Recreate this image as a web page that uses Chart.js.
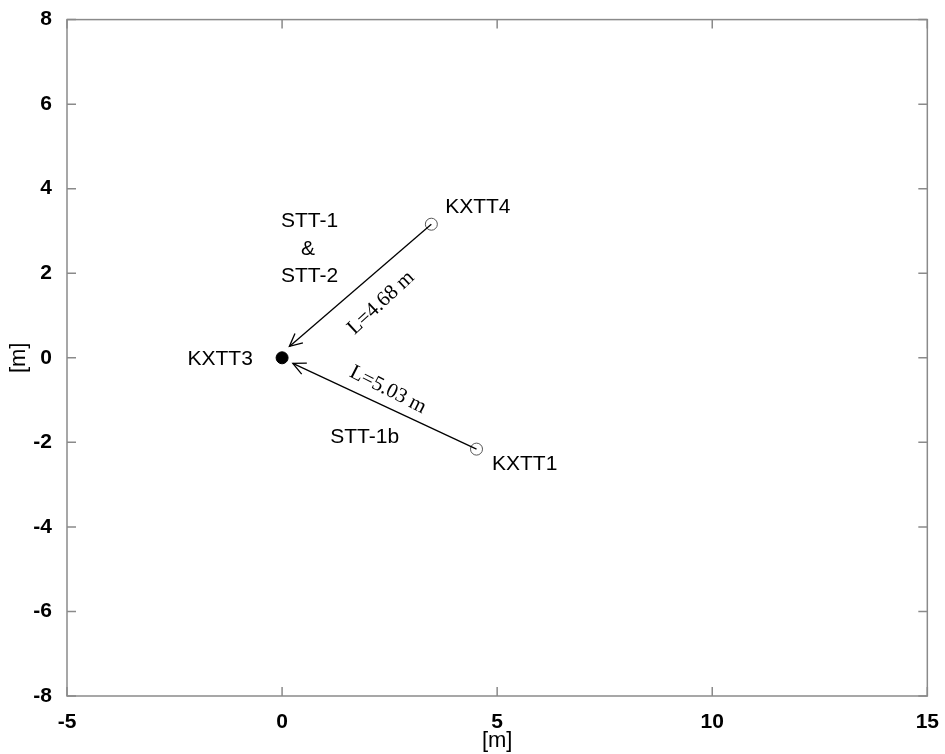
<!DOCTYPE html>
<html>
<head>
<meta charset="utf-8">
<script src="https://cdn.jsdelivr.net/npm/chart.js@4.4.1/dist/chart.umd.min.js"></script>
<style>
  body { margin: 0; background: #fff; }
  #wrap { width: 945px; height: 754px; }
</style>
</head>
<body>
<div id="wrap"><canvas id="chart" width="945" height="754"></canvas></div>
<script>
// station positions [m]
const stationNames = ['KXTT3', 'KXTT4', 'KXTT1'];
const stationX = [0, 3.47, 4.52];
const stationY = [0, 3.16, -2.16];

// arrows: start station -> tip near KXTT3
const arrowFromX = [3.47, 4.52];
const arrowFromY = [3.16, -2.16];
const arrowToX = [0.17, 0.25];
const arrowToY = [0.27, -0.13];

// text annotations (centre positions)
const labelText = ['KXTT3', 'KXTT4', 'KXTT1', 'STT-1', '&', 'STT-2', 'STT-1b'];
const labelX = [-1.44, 4.55, 5.64, 0.64, 0.6, 0.64, 1.92];
const labelY = [-0.03, 3.57, -2.51, 3.22, 2.57, 1.94, -1.87];
const lengthText = ['L=4.68 m', 'L=5.03 m'];
const lengthX = [2.3, 2.46];
const lengthY = [1.3, -0.76];
const lengthAngle = [-43, 27];

// axes
const xTicks = [-5, 0, 5, 10, 15];
const yTicks = [-8, -6, -4, -2, 0, 2, 4, 6, 8];

const sans = "'Liberation Sans Narrow', 'Liberation Sans', Arial, sans-serif";
const frameColor = '#8a8a8a';

const framePlugin = {
    id: 'frame',
    afterDraw(chart) {
        const ctx = chart.ctx;
        const a = chart.chartArea;
        const xs = chart.scales.x, ys = chart.scales.y;
        ctx.save();
        ctx.strokeStyle = frameColor;
        ctx.lineWidth = 1.5;
        ctx.strokeRect(a.left, a.top, a.right - a.left, a.bottom - a.top);
        ctx.beginPath();
        xTicks.forEach(v => {
            const px = xs.getPixelForValue(v);
            ctx.moveTo(px, a.bottom); ctx.lineTo(px, a.bottom - 9);
            ctx.moveTo(px, a.top); ctx.lineTo(px, a.top + 9);
        });
        yTicks.forEach(v => {
            const py = ys.getPixelForValue(v);
            ctx.moveTo(a.left, py); ctx.lineTo(a.left + 9, py);
            ctx.moveTo(a.right, py); ctx.lineTo(a.right - 9, py);
        });
        ctx.stroke();

        // arrowheads
        ctx.strokeStyle = '#000';
        ctx.lineWidth = 1.3;
        arrowToX.forEach((tx, i) => {
            const x1 = xs.getPixelForValue(arrowFromX[i]), y1 = ys.getPixelForValue(arrowFromY[i]);
            const x2 = xs.getPixelForValue(tx), y2 = ys.getPixelForValue(arrowToY[i]);
            const ang = Math.atan2(y2 - y1, x2 - x1);
            const len = 14, spread = 0.45;
            ctx.beginPath();
            ctx.moveTo(x2 - len * Math.cos(ang - spread), y2 - len * Math.sin(ang - spread));
            ctx.lineTo(x2, y2);
            ctx.lineTo(x2 - len * Math.cos(ang + spread), y2 - len * Math.sin(ang + spread));
            ctx.stroke();
        });

        // labels
        ctx.fillStyle = '#000';
        ctx.textAlign = 'center';
        ctx.textBaseline = 'middle';
        ctx.font = "21px 'Liberation Sans', Arial, sans-serif";
        labelText.forEach((t, i) => {
            ctx.fillText(t, xs.getPixelForValue(labelX[i]), ys.getPixelForValue(labelY[i]));
        });
        ctx.font = "21px 'Liberation Serif', 'Times New Roman', serif";
        lengthText.forEach((t, i) => {
            ctx.save();
            ctx.translate(xs.getPixelForValue(lengthX[i]), ys.getPixelForValue(lengthY[i]));
            ctx.rotate(lengthAngle[i] * Math.PI / 180);
            ctx.fillText(t, 0, 0);
            ctx.restore();
        });
        ctx.restore();
    }
};

const arrowSets = arrowToX.map((tx, i) => ({
    type: 'line',
    data: [{ x: arrowFromX[i], y: arrowFromY[i] }, { x: tx, y: arrowToY[i] }],
    borderColor: '#000',
    borderWidth: 1.3,
    pointRadius: 0,
    showLine: true,
    fill: false
}));

new Chart(document.getElementById('chart'), {
    type: 'scatter',
    data: {
        datasets: [
            ...arrowSets,
            {
                label: 'receivers',
                data: stationX.slice(1).map((x, i) => ({ x: x, y: stationY[i + 1] })),
                pointRadius: 6,
                pointBackgroundColor: '#fff',
                pointBorderColor: '#555',
                pointBorderWidth: 1
            },
            {
                label: 'source',
                data: [{ x: stationX[0], y: stationY[0] }],
                pointRadius: 6,
                pointBackgroundColor: '#000',
                pointBorderColor: '#000'
            }
        ]
    },
    options: {
        responsive: false,
        animation: false,
        layout: { padding: { top: 17, right: 17, left: 0, bottom: 0 } },
        plugins: { legend: { display: false }, tooltip: { enabled: false } },
        scales: {
            x: {
                type: 'linear', min: -5, max: 15,
                afterBuildTicks: s => { s.ticks = xTicks.map(v => ({ value: v })); },
                afterFit: s => { s.height = 58; },
                grid: { display: false },
                border: { display: false },
                ticks: { color: '#000', padding: 6, font: { family: sans, size: 21, weight: 'bold' } },
                title: { display: true, text: '[m]', color: '#000', padding: 0,
                         font: { family: sans, size: 22 } }
            },
            y: {
                type: 'linear', min: -8, max: 8,
                afterBuildTicks: s => { s.ticks = yTicks.map(v => ({ value: v })); },
                afterFit: s => { s.width = 67; },
                grid: { display: false },
                border: { display: false },
                ticks: { color: '#000', padding: 7, font: { family: sans, size: 21, weight: 'bold' } },
                title: { display: true, text: '[m]', color: '#000', padding: { top: 6, bottom: 0 },
                         font: { family: sans, size: 22 } }
            }
        }
    },
    plugins: [framePlugin]
});
</script>
</body>
</html>
